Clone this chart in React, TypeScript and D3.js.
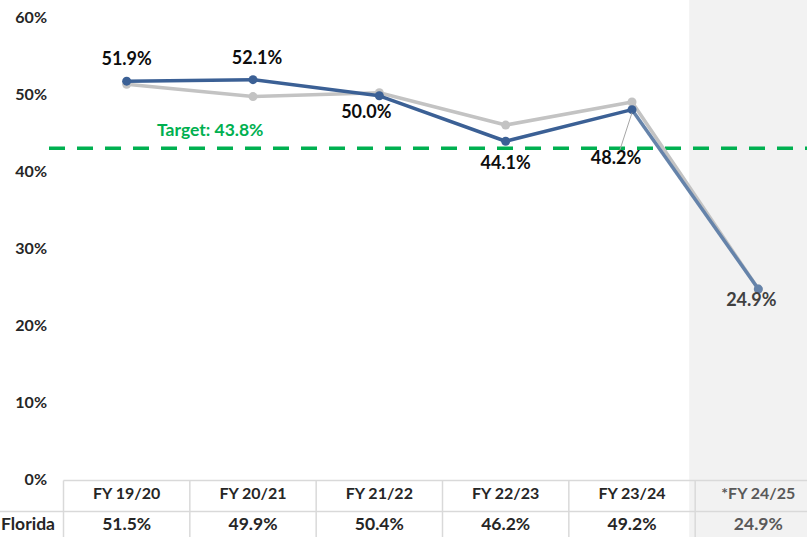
import React from "react";
import * as d3 from "d3";

// chart values
const categories = ["FY 19/20", "FY 20/21", "FY 21/22", "FY 22/23", "FY 23/24", "*FY 24/25"];
const districtValues = [51.9, 52.1, 50.0, 44.1, 48.2, 24.9];
const floridaValues = [51.5, 49.9, 50.4, 46.2, 49.2, 24.9];
const yTicks = [0, 10, 20, 30, 40, 50, 60];
const targetValue = 43.8;
const targetLineValue = 43.2; // where the dashed line sits in the picture
const rowLabel = "Florida";

// label placement relative to each blue point
const labelOffsets = [
  [0, -21],
  [4, -20],
  [-13, 18],
  [0, 23],
  [-16, 50],
  [-7, 12],
];

const W = 807;
const H = 537;
const FONT = "Lato, 'Open Sans', sans-serif";

const App = () => {
  const x = d3.scaleBand<string>().domain(categories).range([63.5, 821.5]);
  const y = d3.scaleLinear().domain([0, 60]).range([480.8, 18.8]);
  const cx = (i: number) => (x(categories[i]) as number) + x.bandwidth() / 2;

  const line = d3
    .line<number>()
    .x((_, i) => cx(i))
    .y((d) => y(d));

  const n = categories.length;
  const lastBand = x(categories[n - 1]) as number;
  const headerY = 495;
  const rowY = 526;

  const bluePts = districtValues.slice(0, n - 1);
  const lastSeg = `M${cx(n - 2)},${y(districtValues[n - 2])}L${cx(n - 1)},${y(districtValues[n - 1])}`;

  return (
    <svg
      width={W}
      height={H}
      style={{ position: "absolute", left: 0, top: 0, background: "#fff" }}
      fontFamily={FONT}
    >
      {/* forecast shading */}
      <rect x={lastBand - 6} y={0} width={W - lastBand + 6} height={H} fill="#f2f2f2" />

      {/* y axis labels */}
      {yTicks.map((t) => (
        <text
          key={t}
          x={47}
          y={y(t)}
          textAnchor="end"
          dominantBaseline="middle"
          fontSize={16}
          fontWeight={700}
          fill="#262626"
        >
          {t}%
        </text>
      ))}

      {/* data table */}
      <g stroke="#d9d9d9" strokeWidth={1.5}>
        <line x1={63.5} x2={W} y1={480.5} y2={480.5} />
        <line x1={0} x2={W} y1={511.5} y2={511.5} />
        {categories.map((c) => (
          <line key={c} x1={x(c)} x2={x(c)} y1={480.5} y2={H} />
        ))}
      </g>
      {categories.map((c, i) => (
        <text
          key={"h" + c}
          x={cx(i)}
          y={headerY}
          textAnchor="middle"
          dominantBaseline="middle"
          fontSize={16}
          fontWeight={700}
          fill={i === n - 1 ? "#595959" : "#262626"}
        >
          {c}
        </text>
      ))}
      <text x={1} y={rowY} dominantBaseline="middle" fontSize={17.5} fontWeight={700} fill="#262626">
        {rowLabel}
      </text>
      {floridaValues.map((v, i) => (
        <text
          key={"f" + i}
          x={cx(i)}
          y={rowY}
          textAnchor="middle"
          dominantBaseline="middle"
          fontSize={17.5}
          fontWeight={700}
          fill={i === n - 1 ? "#595959" : "#262626"}
        >
          {v.toFixed(1)}%
        </text>
      ))}

      {/* target */}
      <line
        x1={49}
        x2={W}
        y1={y(targetLineValue)}
        y2={y(targetLineValue)}
        stroke="#00b050"
        strokeWidth={3.5}
        strokeDasharray="16 12"
      />
      <text x={157} y={y(targetLineValue) - 17} dominantBaseline="middle" fontSize={17.5} fontWeight={700} fill="#00b050">
        Target: {targetValue.toFixed(1)}%
      </text>

      {/* florida line */}
      <path d={line(floridaValues) as string} fill="none" stroke="#c3c3c3" strokeWidth={3.5} strokeLinejoin="round" />
      {floridaValues.map((v, i) => (
        <circle key={"fp" + i} cx={cx(i)} cy={y(v)} r={4.5} fill="#c3c3c3" />
      ))}

      {/* district line */}
      <path d={lastSeg} fill="none" stroke="#6583aa" strokeWidth={3.5} />
      <path d={line(bluePts) as string} fill="none" stroke="#3b6095" strokeWidth={3.5} strokeLinejoin="round" />
      {districtValues.map((v, i) => (
        <circle key={"dp" + i} cx={cx(i)} cy={y(v)} r={4.5} fill={i === n - 1 ? "#6583aa" : "#3b6095"} />
      ))}

      {/* leader for 48.2 label */}
      <line
        x1={cx(4) + labelOffsets[4][0] + 4}
        y1={y(districtValues[4]) + labelOffsets[4][1] - 10}
        x2={cx(4)}
        y2={y(districtValues[4]) + 3}
        stroke="#a6a6a6"
        strokeWidth={1}
      />

      {/* data labels */}
      {districtValues.map((v, i) => (
        <text
          key={"l" + i}
          x={cx(i) + labelOffsets[i][0]}
          y={y(v) + labelOffsets[i][1]}
          textAnchor="middle"
          dominantBaseline="middle"
          fontSize={18}
          fontWeight={700}
          fill={i === n - 1 ? "#404040" : "#0d0d0d"}
        >
          {v.toFixed(1)}%
        </text>
      ))}
    </svg>
  );
};

export default App;
